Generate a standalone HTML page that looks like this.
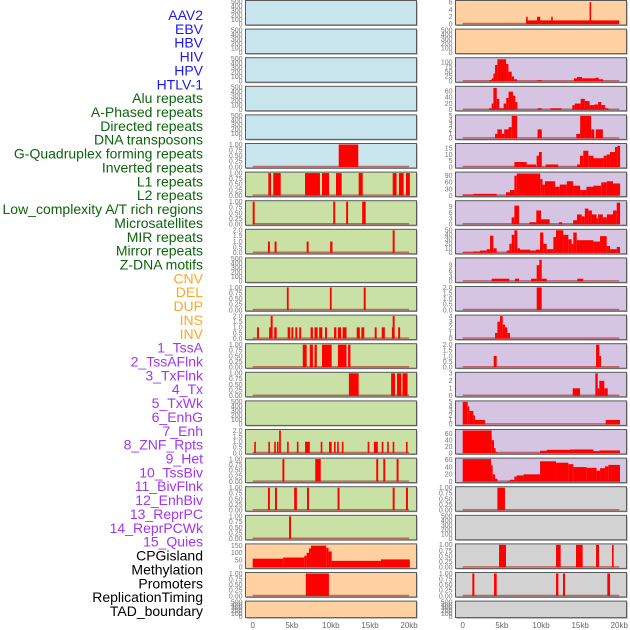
<!DOCTYPE html>
<html><head><meta charset="utf-8">
<style>
html,body{margin:0;padding:0;background:#fff;}
svg{display:block;font-family:"Liberation Sans",sans-serif;}
</style></head>
<body>
<svg id="chart" width="630" height="630" viewBox="0 0 630 630">
<g id="labels"></g>
<g id="panels"></g>
<g id="xaxes"></g>
</svg>
<script>
// ---- labels ----
const trackLabels = ["AAV2","EBV","HBV","HIV","HPV","HTLV-1","Alu repeats","A-Phased repeats","Directed repeats","DNA transposons","G-Quadruplex forming repeats","Inverted repeats","L1 repeats","L2 repeats","Low_complexity A/T rich regions","Microsatellites","MIR repeats","Mirror repeats","Z-DNA motifs","CNV","DEL","DUP","INS","INV","1_TssA","2_TssAFlnk","3_TxFlnk","4_Tx","5_TxWk","6_EnhG","7_Enh","8_ZNF_Rpts","9_Het","10_TssBiv","11_BivFlnk","12_EnhBiv","13_ReprPC","14_ReprPCWk","15_Quies","CPGisland","Methylation","Promoters","ReplicationTiming","TAD_boundary"];
const labelGroups = ["virus","virus","virus","virus","virus","virus","rep","rep","rep","rep","rep","rep","rep","rep","rep","rep","rep","rep","rep","sv","sv","sv","sv","sv","hmm","hmm","hmm","hmm","hmm","hmm","hmm","hmm","hmm","hmm","hmm","hmm","hmm","hmm","hmm","oth","oth","oth","oth","oth"];
const xTickValues = [0,5,10,15,20];
const xTickLabels = ["0","5kb","10kb","15kb","20kb"];

// ---- left column data: [startKb, endKb, value] ----
const L_empty = [];
const L5 = [[11.0,13.5,1]];
const L6 = [[2.0,2.34,1],[2.63,3.58,1],[6.69,8.6,1],[8.86,9.76,1],[10.65,11.38,1],[13.55,14.07,1],[17.9,18.4,1],[18.7,19.3,1],[19.6,20.1,1]];
const L7 = [[0,0.25,1],[10.3,10.55,1],[11.95,12.2,1],[14.0,14.45,1]];
const L8 = [[1.95,2.2,1],[2.8,3.05,1],[6.9,7.15,1],[9.9,10.2,1],[17.9,18.15,2]];
const L10 = [[4.37,4.6,1],[9.87,10.1,1],[14.2,14.45,1]];
const L11 = [[0.55,0.8,1],[2.1,2.35,1],[2.3,2.55,2],[2.75,3.07,1],[4.47,4.8,1],[4.95,5.2,1],[5.45,5.7,1],[5.95,6.2,1],[7.4,7.7,1],[7.9,8.3,1],[8.5,8.9,1],[9.25,9.5,1],[10.4,10.7,1],[10.9,11.3,1],[11.5,12.0,1],[13.3,13.7,1],[13.9,14.27,1],[15.6,15.85,1],[16.5,16.9,1],[17.8,18.1,1],[17.9,18.15,2],[18.6,18.85,1]];
const L12 = [[6.4,6.9,1],[7.3,7.7,1],[7.9,8.2,1],[8.86,10.1,1],[10.9,12.0,1],[12.2,12.5,1]];
const L13 = [[12.3,13.55,1],[17.7,18.2,1],[18.45,19.0,1],[19.15,19.8,1]];
const L15 = [[0.2,0.4,1],[2.0,2.2,1],[2.75,2.95,1],[3.1,3.3,1],[3.38,3.6,2],[4.4,4.6,1],[5.65,5.85,1],[6.7,7.3,1],[8.7,8.9,1],[9.76,10.1,1],[10.4,10.6,1],[10.8,11.0,1],[11.4,11.6,1],[14.7,14.9,1],[15.5,16.0,1],[16.5,16.7,1],[17.2,17.4,1],[17.9,18.1,1],[19.6,19.8,1]];
const L16 = [[3.8,4.05,1],[8.0,8.7,1],[15.8,16.05,1],[16.7,16.95,1],[18.4,18.65,1]];
const L17 = [[1.95,2.2,1],[2.85,3.1,1],[5.3,5.65,1],[6.95,7.2,1],[10.85,11.1,1],[17.9,18.15,1],[19.6,19.85,1]];
const L18 = [[4.65,4.9,1]];
const L19 = [[0,3.9,60],[3.9,6.6,68],[6.6,6.9,80],[6.9,7.2,100],[7.2,7.45,130],[7.45,9.4,150],[9.4,9.7,135],[9.7,10.1,110],[10.1,16.4,45],[16.4,20.1,55]];
const L20 = [[6.8,9.75,1]];

// ---- right column data ----
const R0 = [[8.1,20.0,1],[8.1,8.3,2],[9.5,9.9,2],[11.3,11.5,2],[16.2,16.4,6]];
const R2 = [[3.36,3.7,5],[3.7,3.92,15],[3.92,4.13,40],[4.13,4.43,85],[4.43,5.54,115],[5.54,5.84,90],[5.84,6.26,50],[6.26,6.56,25],[6.56,6.95,10],[9.56,10.1,5],[14.2,14.6,15],[14.6,15.25,22],[15.25,16.95,15],[16.95,17.38,18],[17.38,17.93,10]];
const R3 = [[3.36,3.7,5],[3.7,3.92,20],[3.92,4.35,70],[4.35,4.67,35],[4.67,5.23,5],[5.23,5.56,20],[5.56,5.86,38],[5.86,6.42,58],[6.42,6.72,45],[6.72,6.98,25],[9.56,10.1,5],[11.2,12.6,5],[14.0,14.3,15],[14.3,15.06,20],[15.06,15.6,35],[15.6,16.2,28],[16.2,16.8,15],[16.8,17.3,17],[17.3,17.7,25],[17.7,18.2,15],[18.2,18.6,5]];
const R4 = [[4.13,4.43,1],[4.43,5.0,2],[5.0,5.3,1],[5.3,5.86,2],[5.86,6.26,2.5],[6.26,6.95,5],[9.56,10.1,2],[14.5,15.0,1],[15.0,16.4,5],[16.4,16.8,2],[17.0,17.9,2]];
const R5 = [[6.6,8.17,4],[8.17,9.36,2],[9.44,9.74,9],[9.74,10.1,12],[10.6,12.2,2],[14.6,14.98,2],[14.98,15.4,9],[15.4,16.05,13],[16.05,16.7,9],[16.7,18.0,7],[18.0,18.4,9],[18.4,18.8,10],[18.8,19.45,12],[19.45,19.75,16],[19.75,20.1,17]];
const R6 = [[0,1.36,5],[1.36,4.34,8],[5.53,6.04,15],[6.04,6.6,25],[6.6,6.9,90],[6.9,9.9,100],[9.9,10.2,75],[10.2,10.5,50],[10.5,11.8,65],[11.8,12.4,40],[12.4,13.3,50],[13.3,14.1,65],[14.1,15.0,45],[15.0,15.8,25],[15.8,16.7,40],[16.7,17.7,45],[17.7,18.4,60],[18.4,19.2,65],[19.2,20.1,55]];
const R7 = [[6.25,6.6,3.5],[6.6,7.2,9.5],[8.5,9.4,1],[9.4,10.0,7],[10.0,11.1,2.5],[12.3,12.7,1],[14.1,14.6,2],[14.6,15.2,5],[15.2,15.6,4],[15.6,16.05,8],[16.05,16.5,7],[16.5,17.1,5],[17.1,17.3,3],[17.3,17.9,5],[17.9,18.4,3.5],[18.4,19.2,5],[19.2,19.67,7],[19.67,20.1,11]];
const R8 = [[0,1.36,1],[1.36,2.21,3],[2.21,3.06,5],[3.06,3.49,8],[3.49,3.92,38],[3.92,4.34,10],[5.62,5.96,5],[5.96,6.26,20],[6.26,6.6,40],[6.6,6.98,50],[6.98,7.32,10],[7.32,8.6,7],[8.6,9.32,5],[9.32,9.88,7],[9.88,10.3,45],[10.3,10.73,20],[10.73,11.58,8],[11.58,11.92,35],[11.92,12.85,50],[12.85,13.49,40],[13.49,13.92,30],[13.92,14.13,20],[14.13,14.56,45],[14.56,16.69,28],[16.69,17.54,25],[17.54,18.39,37],[18.39,18.82,15],[18.82,19.67,8],[19.67,20.09,13]];
const R9 = [[3.7,5.96,1.5],[6.68,7.2,1.5],[8.73,9.45,1.5],[9.45,9.79,9],[9.79,10.09,12],[10.09,10.73,1.5],[14.64,15.4,1.5]];
const R10 = [[9.45,10.09,2]];
const R11 = [[4.13,4.43,1],[4.43,4.77,3],[4.77,5.11,4],[5.11,5.4,2.5],[5.4,5.7,2],[5.7,6.04,1]];
const R12 = [[3.96,4.34,1],[17.03,17.45,2],[17.45,17.67,1]];
const R13 = [[14.05,14.98,1],[16.94,17.24,3],[17.24,17.45,1],[17.45,18.09,2],[18.09,18.52,1]];
const R14 = [[0,0.64,5],[0.64,0.85,4],[0.85,1.36,3],[1.36,1.57,2],[1.57,2.85,1],[18.26,20.09,1]];
const R15 = [[0,3.7,70],[3.7,4.0,40],[4.0,4.2,15],[4.2,4.43,3],[9.88,10.73,7],[10.73,13.7,10],[13.7,16.69,11],[16.69,17.45,6],[17.45,20.09,8]];
const R16 = [[0,3.62,62],[3.62,3.83,45],[3.83,4.13,20],[4.13,4.43,8],[5.7,6.04,2],[6.04,6.6,5],[6.6,6.9,14],[6.9,7.75,17],[7.75,9.88,20],[9.88,11.92,56],[11.92,13.49,52],[13.49,14.13,48],[14.13,15.83,40],[15.83,17.1,38],[17.1,17.54,30],[17.54,18.18,37],[18.18,18.6,42],[18.6,20.09,46]];
const R17 = [[4.43,5.4,1]];
const R19 = [[4.64,5.53,1],[11.92,12.51,1],[14.47,15.32,1],[17.03,17.41,1],[19.07,19.28,1]];
const R20 = [[1.23,1.49,1],[4.0,4.34,1],[11.92,12.22,1],[12.81,13.07,1],[18.47,18.82,1]];

// ---- axis ranges per panel: max value and ticks ----
const T_empty = [0,100,200,300,400,500];
const T_1 = [0,0.25,0.5,0.75,1];
const T_2 = [0,0.5,1,1.5,2];
const leftSeries = [L_empty,L_empty,L_empty,L_empty,L_empty,L5,L6,L7,L8,L_empty,L10,L11,L12,L13,L_empty,L15,L16,L17,L18,L19,L20,L_empty];
const leftMax = [500,500,500,500,500,1,1,1,2,500,1,2,1,1,500,2,1,1,1,155,1,500];
const leftTicks = [T_empty,T_empty,T_empty,T_empty,T_empty,T_1,T_1,T_1,T_2,T_empty,T_1,T_2,T_1,T_1,T_empty,T_2,T_1,T_1,T_1,[0,50,100,150],T_1,T_empty];
const leftDec = [0,0,0,0,0,2,2,2,1,0,2,1,2,2,0,1,2,2,2,0,2,0];
const rightSeries = [R0,L_empty,R2,R3,R4,R5,R6,R7,R8,R9,R10,R11,R12,R13,R14,R15,R16,R17,L_empty,R19,R20,L_empty];
const rightMax = [6.2,500,118,72,5,18,102,11.5,50,12.5,2,4,2,3,5,70,62,1,500,1,1,500];
const rightTicks = [[0,2,4,6],T_empty,[0,25,50,75,100],[0,20,40,60],[0,1,2,3,4,5],[0,5,10,15],[0,30,60,90],[0,3,6,9],[0,10,20,30,40,50],[0,3,6,9],T_2,[0,1,2,3,4],T_2,[0,1,2,3],[0,1,2,3,4,5],[0,20,40,60],[0,20,40,60],T_1,T_empty,T_1,T_1,T_empty];
const rightDec = [0,0,0,0,0,0,0,0,0,0,1,0,1,0,0,0,0,2,0,2,2,0];
const leftBg = ["#c8e4ec","#c8e4ec","#c8e4ec","#c8e4ec","#c8e4ec","#c8e4ec","#c9e1a5","#c9e1a5","#c9e1a5","#c9e1a5","#c9e1a5","#c9e1a5","#c9e1a5","#c9e1a5","#c9e1a5","#c9e1a5","#c9e1a5","#c9e1a5","#c9e1a5","#ffd1a0","#ffd1a0","#ffd1a0"];
const rightBg = ["#ffd1a0","#ffd1a0","#d5c5e2","#d5c5e2","#d5c5e2","#d5c5e2","#d5c5e2","#d5c5e2","#d5c5e2","#d5c5e2","#d5c5e2","#d5c5e2","#d5c5e2","#d5c5e2","#d5c5e2","#d5c5e2","#d5c5e2","#d2d2d2","#d2d2d2","#d2d2d2","#d2d2d2","#d2d2d2"];

const NS = "http://www.w3.org/2000/svg";
function mk(tag, attrs, parent){const e=document.createElementNS(NS,tag);for(const k in attrs)e.setAttribute(k,attrs[k]);parent.appendChild(e);return e;}

const groupColor = {virus:"#1a1aee",rep:"#0b640b",sv:"#ffa726",hmm:"#a236ee",oth:"#000000"};
const gL = document.getElementById("labels");
trackLabels.forEach((t,i)=>{
  const el = mk("text",{x:203,y:20+i*13.86,"text-anchor":"end","font-size":"14",fill:groupColor[labelGroups[i]]},gL);
  el.textContent = t;
  
  
});

const cols = [
  {px:245.5, pw:171, x0:252.7, k:7.82, series:leftSeries, max:leftMax, ticks:leftTicks, dec:leftDec, bg:leftBg, side:"left"},
  {px:455.5, pw:171, x0:462.7, k:7.83, series:rightSeries, max:rightMax, ticks:rightTicks, dec:rightDec, bg:rightBg, side:"right"}
];
const gP = document.getElementById("panels");
cols.forEach(c=>{
  const xs = kb => c.x0 + kb*c.k;
  for(let i=0;i<22;i++){
    const top = i*28.6+0.5;
    const h = i===21 ? 16.5 : 24.5;
    const g = mk("g",{},gP);
    
    
    mk("rect",{x:c.px+1,y:top+1,width:c.pw,height:h,fill:"#999"},g);
    mk("rect",{x:c.px,y:top,width:c.pw,height:h,fill:c.bg[i],stroke:"#5a5a5a","stroke-width":"1"},g);
    const mx = c.max[i];
    const ys = v => top+h-1 - v/mx*(h-2);
    c.ticks[i].forEach(t=>{
      const tt = mk("text",{x:c.px-3,y:ys(t)+2.3,"text-anchor":"end","font-size":"7",fill:"#777"},g);
      tt.textContent = t.toFixed(c.dec[i]);
      
      
    });
    const data = c.series[i];
    if(data.length){
      mk("line",{x1:xs(0),x2:xs(20),y1:top+h-1.5,y2:top+h-1.5,stroke:"#b02020","stroke-opacity":"0.6","stroke-width":"1.5"},g);
      data.forEach(d=>{
        const x1=xs(d[0]), x2=xs(d[1]);
        const b = mk("rect",{x:x1,y:ys(d[2]),width:Math.max(1.6,x2-x1),height:top+h-1-ys(d[2]),fill:"#ff0000"},g);
        
        
      });
    }
  }
  const gx = document.getElementById("xaxes");
  xTickValues.forEach((v,j)=>{
    const t = mk("text",{x:xs(v),y:628,"text-anchor":"middle","font-size":"8",fill:"#666"},gx);
    t.textContent = xTickLabels[j];
    
    
  });
});
</script>
</body></html>
